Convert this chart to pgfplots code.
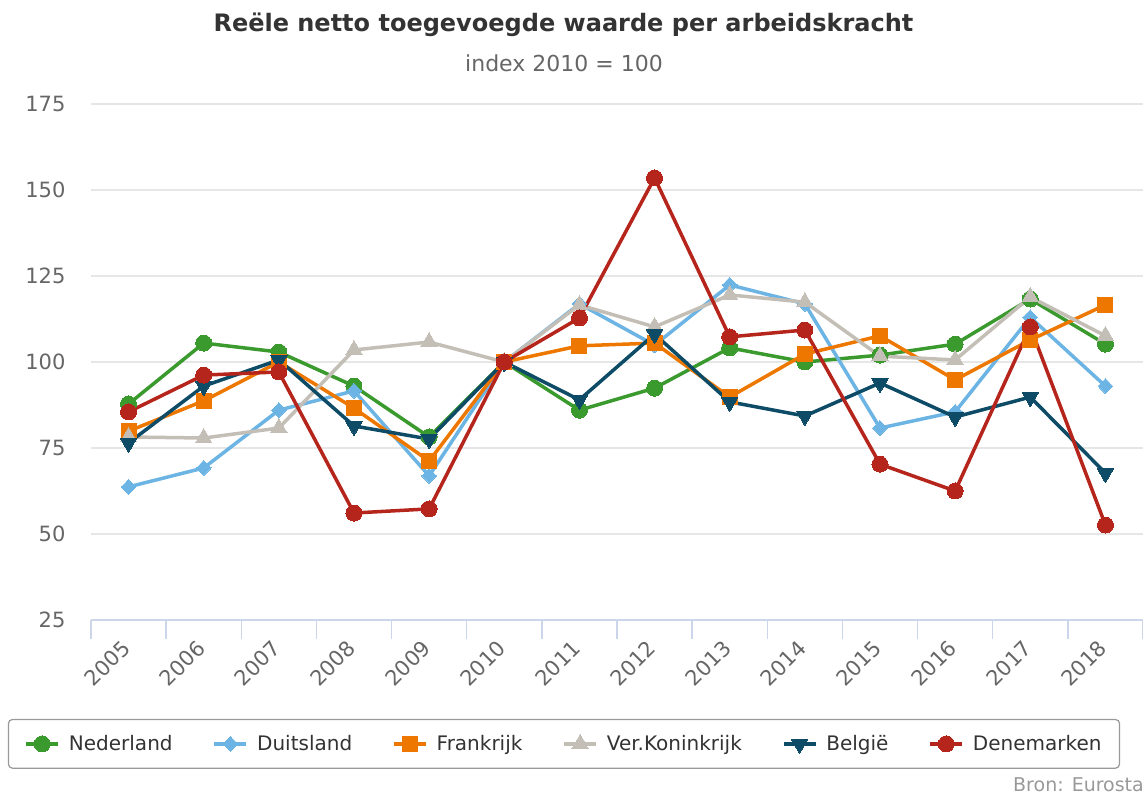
\documentclass[border=0pt]{standalone}
\usepackage{pgfplots}
\pgfplotsset{compat=1.18}
\usepackage{fontspec}
\setmainfont{DejaVu Sans}
\definecolor{cNL}{HTML}{3A9A2E}
\definecolor{cDE}{HTML}{6CB4E4}
\definecolor{cFR}{HTML}{EE7700}
\definecolor{cUK}{HTML}{C4BFB6}
\definecolor{cBE}{HTML}{0D4B66}
\definecolor{cDK}{HTML}{B5251B}
\definecolor{cAx}{HTML}{CCD6EB}
\definecolor{cGrid}{HTML}{E6E6E6}
\definecolor{cTitle}{HTML}{333333}
\definecolor{cSub}{HTML}{666666}
\definecolor{cSrc}{HTML}{999999}
\begin{document}
\begin{tikzpicture}
\path[use as bounding box] (-91pt,-174pt) rectangle (1052pt,620pt);
\begin{axis}[
  at={(0pt,0pt)}, anchor=south west,
  scale only axis, width=1052pt, height=516pt,
  xmin=2004.5, xmax=2018.5, ymin=25, ymax=175,
  ytick={25,50,...,175},
  xtick={2005,...,2018},
  minor xtick={2004.5,2005.5,...,2018.5},
  /pgf/number format/1000 sep={},
  /pgf/number format/assume math mode=true,
  axis lines*=left,
  y axis line style={draw=none},
  x axis line style={draw=cAx, line width=2pt},
  tick align=outside,
  major tick length=0pt,
  minor tick length=19pt,
  minor tick style={draw=cAx, line width=1.5pt},
  ymajorgrids,
  major grid style={draw=cGrid, line width=1.5pt},
  ticklabel style={font=\fontsize{21}{25}\selectfont, text=cSub},
  yticklabel style={anchor=east, xshift=-22pt},
  xticklabel style={rotate=45, anchor=east},
  xticklabel shift=22pt,
  clip=false,
  legend columns=6,
  legend style={at={(0.4496,-0.240)}, anchor=center, draw=cSrc, rounded corners=4pt,
    line width=1.2pt, font=\fontsize{20}{24}\selectfont, text=cTitle,
    inner xsep=16pt, inner ysep=14pt,
    /tikz/every odd column/.append style={column sep=7pt},
    /tikz/every even column/.append style={column sep=38pt}},
  legend cell align=left,
  legend image code/.code={\draw[mark repeat=2,mark phase=2] plot coordinates {(0pt,0pt) (16pt,0pt) (32pt,0pt)};},
  every axis plot/.append style={line width=3.5pt},
]
\addplot[cNL, mark=*, mark size=8pt, mark options={solid, line width=0pt}] coordinates {
(2005,87.8) (2006,105.5) (2007,102.9) (2008,93.0) (2009,78.2) (2010,100) (2011,86.0)
(2012,92.4) (2013,104.1) (2014,100.0) (2015,102.0) (2016,105.2) (2017,118.3) (2018,105.2)};
\addlegendentry{Nederland}
\addplot[cDE, mark=diamond*, mark size=7.5pt, mark options={solid, line width=0pt, xscale=1.3}] coordinates {
(2005,63.7) (2006,69.2) (2007,86.0) (2008,91.6) (2009,66.9) (2010,100) (2011,116.9)
(2012,104.9) (2013,122.4) (2014,116.9) (2015,80.8) (2016,85.5) (2017,113.0) (2018,93.0)};
\addlegendentry{Duitsland}
\addplot[cFR, mark=square*, mark size=7.5pt, mark options={solid, line width=0pt}] coordinates {
(2005,79.9) (2006,88.7) (2007,100.0) (2008,86.6) (2009,71.2) (2010,100) (2011,104.7)
(2012,105.5) (2013,89.8) (2014,102.3) (2015,107.6) (2016,94.8) (2017,106.4) (2018,116.6)};
\addlegendentry{Frankrijk}
\addplot[cUK, mark=triangle*, mark size=9.5pt, mark options={solid, line width=0pt}] coordinates {
(2005,78.2) (2006,77.9) (2007,80.8) (2008,103.5) (2009,105.8) (2010,100) (2011,116.6)
(2012,110.2) (2013,119.5) (2014,117.4) (2015,101.7) (2016,100.6) (2017,118.9) (2018,107.6)};
\addlegendentry{Ver.Koninkrijk}
\addplot[cBE, mark=triangle*, mark size=9.5pt, mark options={solid, line width=0pt, rotate=180}] coordinates {
(2005,76.5) (2006,93.0) (2007,100.6) (2008,81.4) (2009,77.6) (2010,100) (2011,89.0)
(2012,108.1) (2013,88.4) (2014,84.3) (2015,93.9) (2016,84.0) (2017,89.8) (2018,67.7)};
\addlegendentry{België}
\addplot[cDK, mark=*, mark size=8pt, mark options={solid, line width=0pt}] coordinates {
(2005,85.5) (2006,96.2) (2007,97.1) (2008,56.1) (2009,57.3) (2010,100) (2011,112.8)
(2012,153.5) (2013,107.3) (2014,109.3) (2015,70.3) (2016,62.5) (2017,110.2) (2018,52.6)};
\addlegendentry{Denemarken}
\end{axis}
\node[font=\bfseries\fontsize{24}{28}\selectfont, text=cTitle] at (472.5pt,595pt) {Reële netto toegevoegde waarde per arbeidskracht};
\node[font=\fontsize{22}{26}\selectfont, text=cSub] at (473pt,557pt) {index 2010 = 100};
\node[anchor=west, inner sep=0pt, font=\fontsize{19}{23}\selectfont, text=cSrc] at (922pt,-165pt) {Bron: Eurostat};
\end{tikzpicture}
\end{document}
